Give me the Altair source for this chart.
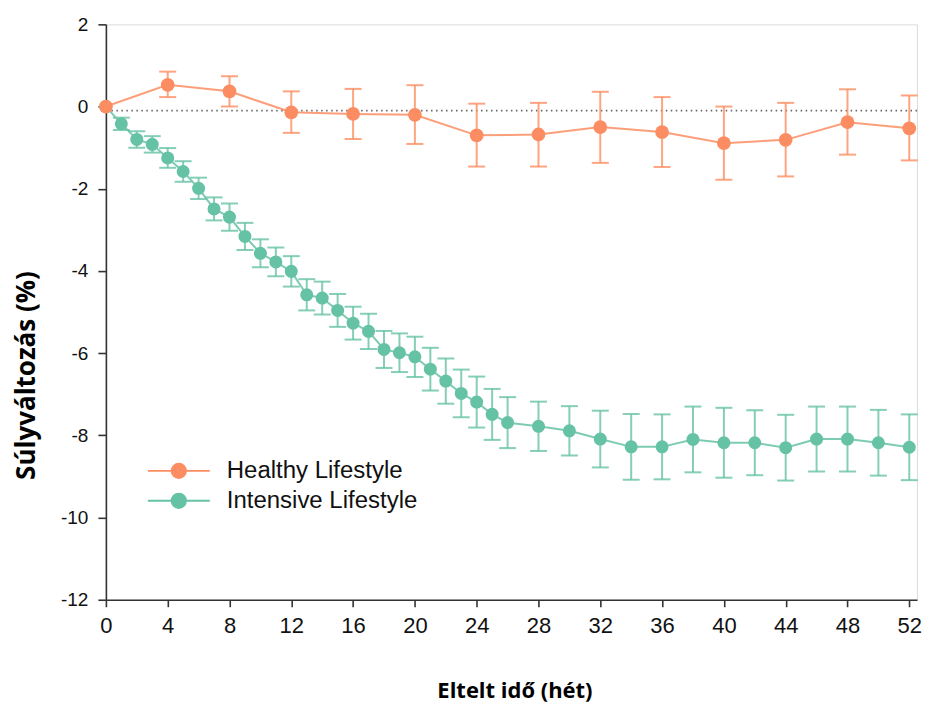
import altair as alt
import pandas as pd

# ---------------- data ----------------
healthy_weeks = [0, 4, 8, 12, 16, 20, 24, 28, 32, 36, 40, 44, 48, 52]
healthy_mean = [0.0, 0.53, 0.37, -0.14, -0.18, -0.20, -0.70, -0.68, -0.50, -0.62, -0.89, -0.81, -0.38, -0.53]
healthy_upper = [None, 0.85, 0.74, 0.37, 0.43, 0.52, 0.07, 0.09, 0.36, 0.23, 0.00, 0.09, 0.42, 0.27]
healthy_lower = [None, 0.23, 0.00, -0.64, -0.79, -0.91, -1.46, -1.46, -1.37, -1.47, -1.78, -1.70, -1.17, -1.31]

intensive_weeks = list(range(0, 27)) + [28, 30, 32, 34, 36, 38, 40, 42, 44, 46, 48, 50, 52]
intensive_mean = [0.0, -0.42, -0.80, -0.92, -1.25, -1.58, -1.99, -2.49, -2.69, -3.16,
                  -3.57, -3.78, -4.01, -4.58, -4.66, -4.96, -5.27, -5.47, -5.91, -5.99,
                  -6.09, -6.39, -6.68, -6.98, -7.19, -7.49, -7.69,
                  -7.78, -7.89, -8.09, -8.28, -8.28, -8.10, -8.18, -8.18, -8.30, -8.09, -8.09, -8.18, -8.29]
intensive_err = [None, 0.15, 0.20, 0.20, 0.24, 0.25, 0.26, 0.28, 0.33, 0.33,
                 0.34, 0.35, 0.37, 0.38, 0.40, 0.40, 0.40, 0.43, 0.45, 0.47,
                 0.49, 0.52, 0.55, 0.58, 0.62, 0.62, 0.62,
                 0.60, 0.60, 0.69, 0.80, 0.79, 0.80, 0.85, 0.79, 0.80, 0.79, 0.79, 0.80, 0.80]

reference_level = [-0.1]
x_ticks = [0, 4, 8, 12, 16, 20, 24, 28, 32, 36, 40, 44, 48, 52]
y_ticks = [2, 0, -2, -4, -6, -8, -10, -12]
series_names = ["Healthy Lifestyle", "Intensive Lifestyle"]

ORANGE = "#FC8D62"
GREEN = "#66C2A5"

# ---------------- tables ----------------
hdf = pd.DataFrame({"week": healthy_weeks, "mean": healthy_mean,
                    "lo": healthy_lower, "hi": healthy_upper})
hdf["group"] = series_names[0]

idf = pd.DataFrame({"week": intensive_weeks, "mean": intensive_mean, "err": intensive_err})
idf["err"] = idf["err"].astype(float)
idf["lo"] = idf["mean"] - idf["err"]
idf["hi"] = idf["mean"] + idf["err"]
idf["group"] = series_names[1]

refdf = pd.DataFrame({"level": reference_level})

# ---------------- scales / axes ----------------
xscale = alt.Scale(domain=[0, 52.5], nice=False, zero=False)
yscale = alt.Scale(domain=[-12, 2], nice=False, zero=False)

xaxis = alt.Axis(values=x_ticks, title="Eltelt idő (hét)", grid=False,
                 domainColor="#333", domainWidth=1.6, tickColor="#333", tickWidth=1.6,
                 tickSize=7, labelPadding=9, labelFlush=False,
                 labelFont="Liberation Sans Narrow, Arial Narrow, Liberation Sans",
                 labelFontSize=22, labelColor="#111",
                 titleFont="Open Sans", titleFontSize=22, titleFontWeight="bold",
                 titleColor="#000", titleX=409, titleY=91, titleBaseline="middle",
                 titleAlign="center")
yaxis = alt.Axis(values=y_ticks, title="Súlyváltozás (%)", grid=False,
                 domainColor="#333", domainWidth=1.6, tickColor="#333", tickWidth=1.6,
                 tickSize=8, labelPadding=10, labelFont="Liberation Sans",
                 labelFontSize=19, labelColor="#111",
                 labelExpr="'' + datum.value",
                 titleFont="Open Sans", titleFontSize=26, titleFontWeight="bold",
                 titleColor="#000", titleAngle=-90, titleX=-79, titleY=351,
                 titleBaseline="middle", titleAlign="center")

X = alt.X("week:Q", scale=xscale, axis=xaxis)

LEGEND_PATH = ("M-1,0L1,0M-0.23,0A0.23,0.23,0,1,1,0.23,0"
               "A0.23,0.23,0,1,1,-0.23,0Z")


def legend_for(color, y):
    return alt.Legend(title=None, orient="none", legendX=41, legendY=y,
                      symbolType=LEGEND_PATH, symbolSize=3844,
                      symbolFillColor=color, symbolStrokeColor=color,
                      symbolStrokeWidth=2, symbolOpacity=1,
                      labelFont="Liberation Sans", labelFontSize=24,
                      labelColor="#111", labelOffset=16, labelLimit=400)


def series_layers(df, color, name, psize, legend_y):
    base = alt.Chart(df)
    errs = base.transform_filter("isValid(datum.lo)")
    line = base.mark_line(color=color, strokeWidth=2, opacity=0.85).encode(
        x=X, y=alt.Y("mean:Q", scale=yscale, axis=yaxis))
    rule = errs.mark_rule(color=color, strokeWidth=2, opacity=0.8).encode(
        x=X, y=alt.Y("lo:Q", scale=yscale, axis=yaxis), y2="hi:Q")
    cap_lo = errs.mark_tick(color=color, orient="horizontal", size=17,
                            thickness=2, opacity=0.8).encode(
        x=X, y=alt.Y("lo:Q", scale=yscale, axis=yaxis))
    cap_hi = errs.mark_tick(color=color, orient="horizontal", size=17,
                            thickness=2, opacity=0.8).encode(
        x=X, y=alt.Y("hi:Q", scale=yscale, axis=yaxis))
    pts = base.mark_point(filled=True, size=psize, opacity=1).encode(
        x=X, y=alt.Y("mean:Q", scale=yscale, axis=yaxis),
        color=alt.Color("group:N",
                        scale=alt.Scale(domain=[name], range=[color]),
                        legend=legend_for(color, legend_y)))
    return [rule, cap_lo, cap_hi, line, pts]


ref = alt.Chart(refdf).mark_rule(color="#666", strokeWidth=1.6,
                                 strokeDash=[1.5, 3.5]).encode(
    y=alt.Y("level:Q", scale=yscale, axis=yaxis))

layers = [ref]
layers += series_layers(idf, GREEN, series_names[1], 170, 445)
layers += series_layers(hdf, ORANGE, series_names[0], 190, 415)

chart = alt.layer(*layers).resolve_scale(color="independent").properties(
    width=812, height=576,
    autosize=alt.AutoSizeParams(type="none"),
    padding={"left": 98, "top": 16, "right": 8, "bottom": 106},
).configure_view(stroke=None).configure(background="white")

chart.save("out.html", embed_options={"renderer": "svg", "actions": False})
